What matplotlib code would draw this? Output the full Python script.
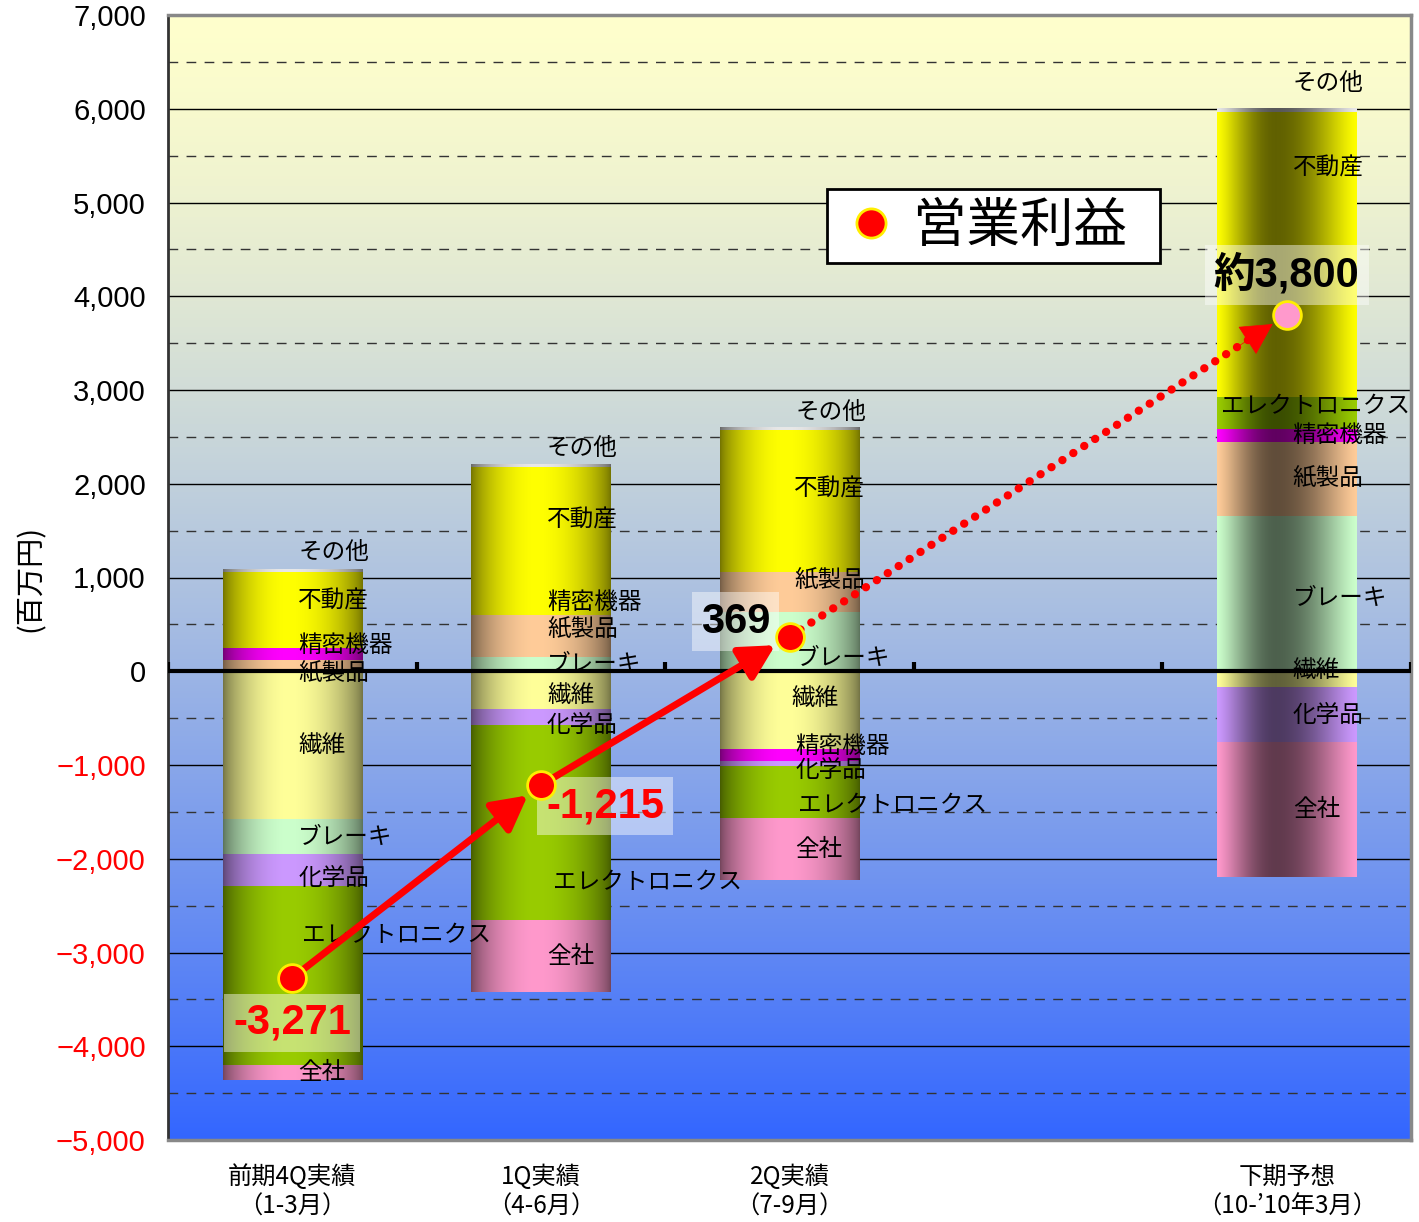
import numpy as np
import matplotlib
matplotlib.use('Agg')
import matplotlib.pyplot as plt
from matplotlib.lines import Line2D

plt.rcParams['font.family'] = ['Noto Sans CJK JP', 'DejaVu Sans']

# ---------------- data ----------------
categories = ['前期4Q実績\n（1-3月）', '1Q実績\n（4-6月）', '2Q実績\n（7-9月）', '',
              '下期予想\n（10-’10年3月）']
series = ['繊維', 'ブレーキ', '紙製品', '精密機器', '化学品', 'エレクトロニクス', '不動産', '全社', 'その他']
seni = [-1580, -405, -840, 0, -180]
brake = [-380, 150, 630, 0, 1660]
paper = [115, 450, 425, 0, 790]
precision = [130, 0, -120, 0, 130]
chemical = [-345, -170, -60, 0, -580]
electronics = [-1900, -2090, -550, 0, 340]
realestate = [810, 1580, 1515, 0, 3040]
corporate = [-151, -760, -661, 0, -1440]
other = [30, 30, 30, 0, 40]
profit = [-3271, -1215, 369, None, 3800]
profit_labels = ['-3,271', '-1,215', '369', '', '約3,800']
legend_label = '営業利益'
ylabel = '(百万円)'

values = [seni, brake, paper, precision, chemical, electronics, realestate, corporate, other]
colors = {'繊維': '#FFFF99', 'ブレーキ': '#CCFFCC', '紙製品': '#FFCC99', '精密機器': '#FF00FF',
          '化学品': '#CC99FF', 'エレクトロニクス': '#99CC00', '不動産': '#FFFF00', '全社': '#FF99CC',
          'その他': '#E8E8E8'}

# label offsets (pixels, image coords: +dy = down)
label_offsets = {
    (0, '不動産'): (0, -9), (0, '精密機器'): (0, -9), (0, '紙製品'): (0, 8), (0, '化学品'): (0, 7),
    (0, 'エレクトロニクス'): (4, -41),
    (1, '不動産'): (0, -21), (1, '精密機器'): (0, -13), (1, '紙製品'): (0, -6), (1, '繊維'): (0, 5),
    (1, '化学品'): (0, 8), (1, 'エレクトロニクス'): (6, 59),
    (2, '不動産'): (-2, -12), (2, '紙製品'): (-1, -11), (2, 'ブレーキ'): (0, 17), (2, '繊維'): (-4, -12),
    (2, '精密機器'): (0, -9), (2, '化学品'): (0, 6), (2, 'エレクトロニクス'): (3, 13),
    (4, '不動産'): (0, -87), (4, 'エレクトロニクス'): (-72, -7), (4, '繊維'): (0, -9), (4, 'ブレーキ'): (0, 5),
}
other_dy = {0: -17, 1: -16, 2: -15, 4: -25}

W, H = 1419, 1222
fig = plt.figure(figsize=(W / 100, H / 100), dpi=100)
ax = fig.add_axes([168 / W, 1 - 1140 / H, (1411 - 168) / W, (1140 - 15) / H])
ymin, ymax = -5000, 7000
xmin, xmax = -0.5, len(categories) - 0.5

# background gradient
t = np.linspace(0, 1, 512) ** 1.35
top = np.array([255, 255, 204]) / 255
bot = np.array([51, 102, 255]) / 255
grad = top[None, :] * (1 - t[:, None]) + bot[None, :] * t[:, None]
ax.imshow(grad[:, None, :], extent=(xmin, xmax, ymin, ymax), aspect='auto', origin='upper',
          zorder=-2, interpolation='bilinear')

# gridlines
for v in range(ymin, ymax + 1, 1000):
    if v not in (ymin, ymax, 0):
        ax.axhline(v, color='black', lw=1.0, zorder=0.5)
for v in range(ymin + 500, ymax, 1000):
    ax.axhline(v, color='#333333', lw=1.0, ls=(0, (7, 6)), zorder=0.5)

# shading profiles
N = 200
tt = np.linspace(0, 1, N)

def profile(inverse):
    c = 0.42 if inverse else 0.47
    s = np.where(tt < c, tt / c, (1 - tt) / (1 - c))
    s = np.clip(s, 0, 1)
    if inverse:
        return 1 - 0.62 * np.sin(np.pi / 2 * s) ** 1.3
    return 0.45 + 0.55 * np.sin(np.pi / 2 * s) ** 0.7

bw = 0.56
for i in range(len(categories)):
    if all(vals[i] == 0 for vals in values):
        continue
    inverse = (i == 4)
    prof = profile(inverse)
    pos, neg = 0.0, 0.0
    for name, vals in zip(series, values):
        v = vals[i]
        if v >= 0:
            y0, y1 = pos, pos + v
            pos = y1
        else:
            y0, y1 = neg, neg + v
            neg = y1
        base = np.array(matplotlib.colors.to_rgb(colors[name]))
        img = np.clip(base[None, :] * prof[:, None], 0, 1)[None, :, :]
        if v != 0:
            ax.imshow(img, extent=(i - bw / 2, i + bw / 2, min(y0, y1), max(y0, y1)),
                      aspect='auto', zorder=2, interpolation='bilinear')
        # label
        if name == 'その他':
            ycen = y1
            dx, dy = 0, other_dy.get(i, -17)
        else:
            ycen = (y0 + y1) / 2
            dx, dy = label_offsets.get((i, name), (0, 0))
        ax.annotate(name, xy=(i, ycen), xytext=(6 + dx, -dy), textcoords='offset pixels',
                    ha='left', va='center', fontsize=17, color='black', zorder=4)

# zero line and its ticks
ax.axhline(0, color='black', lw=3, zorder=3.5)
ax.vlines(np.arange(len(categories) + 1) - 0.5, 0, 95, color='black', lw=3, zorder=3.5)

# operating profit points & arrows
xs = [i for i, p in enumerate(profit) if p is not None]
ps = [p for p in profit if p is not None]
astyle = '-|>,head_length=1.4,head_width=0.75'
for k in range(2):
    ax.annotate('', xy=(xs[k + 1], ps[k + 1]), xytext=(xs[k], ps[k]),
                arrowprops=dict(arrowstyle=astyle, color='red', lw=5,
                                shrinkA=0, shrinkB=12, mutation_scale=15), zorder=6)
# dotted arrow
xa, ya = xs[2], ps[2]
xb, yb = xs[3], ps[3]
f = 0.945
xm, ym = xa + (xb - xa) * f, ya + (yb - ya) * f
ax.plot([xa, xm], [ya, ym], color='red', lw=6, ls=(0, (0.01, 1.55)), dash_capstyle='round', zorder=6)
ax.annotate('', xy=(xb, yb), xytext=(xa + (xb - xa) * 0.9, ya + (yb - ya) * 0.9),
            arrowprops=dict(arrowstyle=astyle, color='red', lw=0.5,
                            shrinkA=0, shrinkB=12, mutation_scale=15), zorder=6)

ax.plot(xs[:3], ps[:3], 'o', ms=20, mfc='red', mec='#FFEE00', mew=2, zorder=8, ls='none')
ax.plot(xs[3:], ps[3:], 'o', ms=20, mfc='#FF99CC', mec='#FFEE00', mew=2, zorder=8, ls='none')

# profit value labels
lab_off = [(0, -45), (64, -21), (-54, 15), (0, 40)]
lab_col = ['red', 'red', 'black', 'black']
for k, (x, p) in enumerate(zip(xs, ps)):
    ax.annotate(profit_labels[x], xy=(x, p), xytext=lab_off[k], textcoords='offset pixels',
                ha='center', va='center', fontsize=30, fontweight='bold', color=lab_col[k],
                family=['Liberation Sans', 'Noto Sans CJK JP'], zorder=5,
                bbox=dict(boxstyle='square,pad=0.22', facecolor='white', alpha=0.45, edgecolor='none'))

# legend
h = Line2D([], [], marker='o', ls='none', ms=21, mfc='red', mec='#FFEE00', mew=2)
leg = ax.legend([h], [legend_label + '  '], loc='upper left',
                bbox_to_anchor=((827 - 168) / 1243, (1140 - 189) / 1125),
                fontsize=38.5, frameon=True, fancybox=False, framealpha=1, edgecolor='black',
                borderpad=0.18, handlelength=1.3, handletextpad=0.12, borderaxespad=0)
leg.get_frame().set_linewidth(2)
leg.set_zorder(9)

# axes
ax.set_xlim(xmin, xmax)
ax.set_ylim(ymin, ymax)
ax.set_xticks(range(len(categories)))
ax.set_xticklabels(categories, fontsize=17.5, linespacing=1.2)
ax.tick_params(axis='x', length=0, pad=17)
yt = list(range(ymin, ymax + 1, 1000))
ax.set_yticks(yt)
ax.set_yticklabels([f'{v:,}'.replace('-', '−') for v in yt], fontsize=21, family='Liberation Sans')
for lbl, v in zip(ax.get_yticklabels(), yt):
    lbl.set_color('red' if v < 0 else 'black')
ax.tick_params(axis='y', length=0, pad=16)
for s in ['top', 'right', 'bottom']:
    ax.spines[s].set_color('#888888')
    ax.spines[s].set_linewidth(2.5)
ax.spines['left'].set_color('#333333')
ax.spines['left'].set_linewidth(2)

fig.text(31 / W, 1 - 578 / H, ylabel, rotation=90, ha='center', va='center', fontsize=21)

fig.savefig('out.png', dpi=100)
